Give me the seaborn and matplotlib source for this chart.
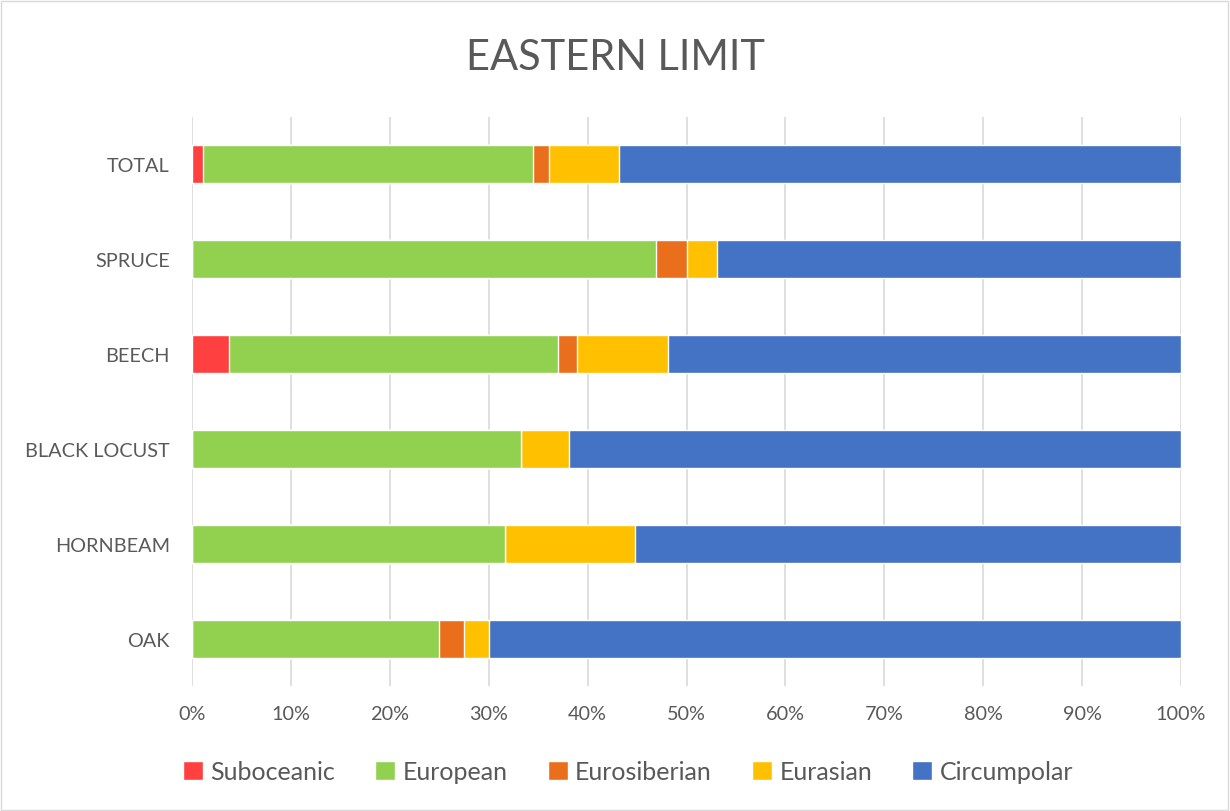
import numpy as np
import pandas as pd
import seaborn as sns
import matplotlib.pyplot as plt
from matplotlib.patches import Rectangle

stands = ['TOTAL', 'SPRUCE', 'BEECH', 'BLACK LOCUST', 'HORNBEAM', 'OAK']
suboceanic = [1.1, 0.0, 3.7, 0.0, 0.0, 0.0]
european = [33.4, 46.9, 33.3, 33.3, 31.6, 25.0]
eurosiberian = [1.6, 3.1, 1.9, 0.0, 0.0, 2.5]
eurasian = [7.1, 3.1, 9.2, 4.8, 13.2, 2.5]
circumpolar = [56.8, 46.9, 51.9, 61.9, 55.2, 70.0]

groups = ['Suboceanic', 'European', 'Eurosiberian', 'Eurasian', 'Circumpolar']
colors = ['#FF4040', '#92D050', '#EA6F1C', '#FFC000', '#4472C4']

df = pd.DataFrame({'stand': stands, 'Suboceanic': suboceanic, 'European': european,
                   'Eurosiberian': eurosiberian, 'Eurasian': eurasian,
                   'Circumpolar': circumpolar})
vals = df[groups]
cum = vals.div(vals.sum(axis=1), axis=0).cumsum(axis=1) * 100

sns.set_style('white')
plt.rcParams['font.family'] = ['Lato', 'DejaVu Sans']

fig = plt.figure(figsize=(12.3, 8.12), dpi=100)
ax = fig.add_axes([192 / 1230, 1 - 687 / 812, 989 / 1230, 569 / 812])

# draw the cumulative totals from the right so each layer covers the next
for g, c in zip(groups[::-1], colors[::-1]):
    sns.barplot(x=cum[g], y=df['stand'], color=c, width=0.4, ax=ax,
                saturation=1, orient='h', label=g, zorder=3)

ax.set_xlim(0, 100)
ax.set_ylim(5.5, -0.5)
ax.set_xticks(np.arange(0, 101, 10))
ax.set_xticklabels([f'{t}%' for t in range(0, 101, 10)])
ax.grid(axis='x', color='#D9D9D9', linewidth=1.2, zorder=0)
ax.grid(axis='y', visible=False)
for s in ax.spines.values():
    s.set_visible(False)
ax.set_xlabel('')
ax.set_ylabel('')
ax.tick_params(axis='both', length=0, labelsize=14.3, colors='#595959')
ax.tick_params(axis='x', pad=14)
ax.tick_params(axis='y', pad=16)

handles, labels = ax.get_legend_handles_labels()
order = [labels.index(g) for g in groups]
ax.legend([handles[i] for i in order], groups, loc='center',
          bbox_to_anchor=(628 / 1230, 1 - 773 / 812), bbox_transform=fig.transFigure,
          ncol=5, frameon=False, fontsize=18, labelcolor='#595959',
          handlelength=0.8, handleheight=0.8, handletextpad=0.3, columnspacing=1.6)

fig.text(0.5, 1 - 58 / 812, 'EASTERN LIMIT', ha='center', va='center',
         fontsize=30, color='#595959')
fig.patches.append(Rectangle((0.001, 0.001), 0.997, 0.997, transform=fig.transFigure,
                             fill=False, edgecolor='#D9D9D9', linewidth=1))

plt.savefig('out.png', dpi=100)
